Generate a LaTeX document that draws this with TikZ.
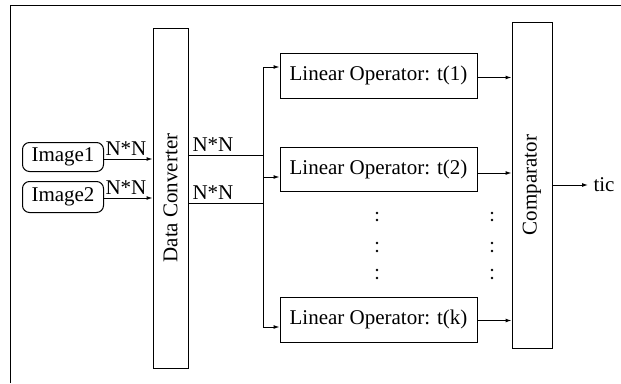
\documentclass[tikz,border=0pt]{standalone}
\usepackage{fontspec}
\setmainfont{Liberation Serif}
\usetikzlibrary{arrows.meta}
\begin{document}
\begin{tikzpicture}[x=1pt,y=-1pt,
  font=\fontsize{21}{24}\selectfont,
  line width=1pt,
  box/.style={draw,inner sep=0pt,line width=1pt},
  rbox/.style={box,rounded corners=7pt},
  arr/.style={-{Latex[length=6pt,width=4pt]}},
  lbl/.style={inner sep=0pt},
  dotmark/.style={circle,fill,inner sep=0pt,minimum size=2.6pt}]
\useasboundingbox (0,0) rectangle (621,383);
\draw (10,383) -- (10,5) -- (621,5);
% inputs
\node[rbox,minimum width=81pt,minimum height=29pt] (img1) at (63,157) {Image1};
\node[rbox,minimum width=81pt,minimum height=31pt] (img2) at (63,197) {Image2};
\node[box,minimum width=35pt,minimum height=340pt] (dc) at (170.5,198) {};
\node[rotate=90,lbl] (dct) at (dc.center) {Data Converter};
\draw[arr] ([yshift=-2pt]img1.east) -- ([yshift=-2pt]img1.east -| dc.west);
\draw[arr] ([yshift=-1pt]img2.east) -- ([yshift=-1pt]img2.east -| dc.west);
\node[lbl,anchor=south] (n1) at (126,156) {N*N};
\node[lbl,anchor=south] (n2) at (126,195) {N*N};
% operators
\node[box,minimum width=197pt,minimum height=45pt] (lo1) at (378.5,75.5) {Linear Operator: t(1)};
\node[box,minimum width=197pt,minimum height=44pt] (lo2) at (378.5,169) {Linear Operator: t(2)};
\node[box,minimum width=197pt,minimum height=45pt] (lok) at (378.5,319.5) {Linear Operator: t(k)};
\node[box,minimum width=40pt,minimum height=326pt] (cmp) at (532,185) {};
\node[rotate=90,lbl] (cmpt) at (cmp.center) {Comparator};
% trunk
\coordinate (ja) at (263,67);
\coordinate (jb) at (263,177);
\coordinate (jk) at (263,327);
\coordinate (ya) at (263,155);
\coordinate (yb) at (263,203);
\draw (ja) -- (jk);
\draw (ya -| dc.east) -- (ya);
\draw (yb -| dc.east) -- (yb);
\node[lbl,anchor=south] (n3) at (213,152) {N*N};
\node[lbl,anchor=south] (n4) at (213,200) {N*N};
\draw[arr] (ja) -- (ja -| lo1.west);
\draw[arr] (jb) -- (jb -| lo2.west);
\draw[arr] (jk) -- (jk -| lok.west);
% to comparator
\draw[arr] ([yshift=-2pt]lo1.east) -- ([yshift=-2pt]lo1.east -| cmp.west);
\draw[arr] ([yshift=-4pt]lo2.east) -- ([yshift=-4pt]lo2.east -| cmp.west);
\draw[arr] ([yshift=-1pt]lok.east) -- ([yshift=-1pt]lok.east -| cmp.west);
% output
\coordinate (oe) at (588,185);
\draw[arr] (cmp.east) -- (oe);
\node[lbl,anchor=west] (tic) at (593,185) {tic};
% dots
\foreach \yy in {213,220,243,251,270,278}{
  \node[dotmark] at (377,\yy) {};
  \node[dotmark] at (492,\yy) {};
}
\end{tikzpicture}
\end{document}
